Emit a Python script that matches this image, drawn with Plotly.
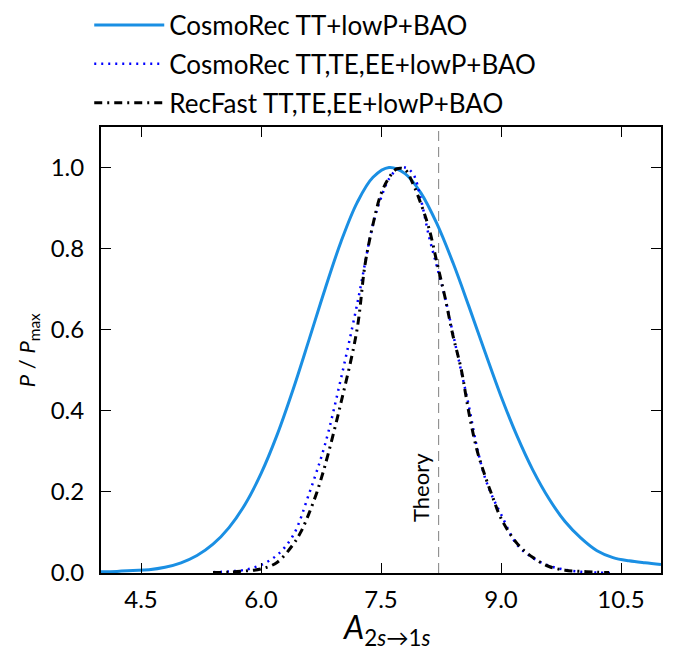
import plotly.graph_objects as go

# ---- data ----
x_tt = [4.0, 4.2, 4.4, 4.6, 4.8, 5.0, 5.2, 5.4, 5.6, 5.8, 6.0, 6.2, 6.4, 6.6, 6.8,
        7.0, 7.2, 7.4, 7.6, 7.8, 8.0, 8.2, 8.4, 8.6, 8.8, 9.0, 9.2, 9.4, 9.6, 9.8,
        10.0, 10.2, 10.4, 10.6, 10.8, 11.0]
p_tt = [0.003, 0.004, 0.006, 0.008, 0.014, 0.025, 0.043, 0.071, 0.112, 0.169, 0.245,
        0.340, 0.452, 0.575, 0.700, 0.817, 0.913, 0.976, 1.000, 0.985, 0.937, 0.861,
        0.765, 0.657, 0.545, 0.436, 0.338, 0.253, 0.183, 0.127, 0.086, 0.055, 0.038,
        0.030, 0.025, 0.021]

x_ttteee = [5.4, 5.6, 5.8, 6.0, 6.2, 6.4, 6.6, 6.8, 7.0, 7.2, 7.4, 7.5, 7.6, 7.7, 7.8,
            7.9, 8.0, 8.1, 8.2, 8.3, 8.4, 8.5, 8.6, 8.7, 8.8, 8.9, 9.0, 9.2, 9.4, 9.6,
            9.8, 10.0, 10.2, 10.4]
p_ttteee = [0.002, 0.004, 0.008, 0.020, 0.044, 0.092, 0.195, 0.317, 0.480, 0.661, 0.860,
            0.925, 0.972, 0.995, 1.000, 0.985, 0.920, 0.830, 0.755, 0.680, 0.590, 0.500,
            0.410, 0.310, 0.235, 0.185, 0.145, 0.070, 0.037, 0.018, 0.008, 0.003, 0.001,
            0.000]

x_recfast = [5.4, 5.6, 5.8, 6.0, 6.2, 6.4, 6.5, 6.6, 6.7, 6.8, 7.0, 7.2, 7.3, 7.4, 7.5,
             7.6, 7.7, 7.8, 7.9, 8.0, 8.1, 8.2, 8.3, 8.4, 8.5, 8.6, 8.7, 8.8, 8.9, 9.0,
             9.2, 9.4, 9.6, 9.8, 10.0, 10.2, 10.35]
p_recfast = [0.001, 0.002, 0.005, 0.010, 0.026, 0.070, 0.102, 0.147, 0.200, 0.265, 0.420,
             0.600, 0.760, 0.860, 0.935, 0.975, 0.997, 0.995, 0.960, 0.910, 0.850, 0.765,
             0.680, 0.585, 0.505, 0.394, 0.303, 0.240, 0.185, 0.135, 0.073, 0.038, 0.016,
             0.007, 0.004, 0.002, 0.001]

theory_value = 8.2206
x_ticks = [4.5, 6.0, 7.5, 9.0, 10.5]
x_tick_labels = ["4.5", "6.0", "7.5", "9.0", "10.5"]
y_ticks = [0.0, 0.2, 0.4, 0.6, 0.8, 1.0]
y_tick_labels = ["0.0", "0.2", "0.4", "0.6", "0.8", "1.0"]

FONT = "Lato"

fig = go.Figure()
fig.add_trace(go.Scatter(x=x_tt, y=p_tt, mode="lines", name="CosmoRec TT+lowP+BAO",
                         legendgroup="a", line=dict(color="#1a8fe3", width=3, shape="spline")))
fig.add_trace(go.Scatter(x=x_ttteee, y=p_ttteee, mode="lines",
                         name="CosmoRec TT,TE,EE+lowP+BAO", legendgroup="b",
                         line=dict(color="#0000ff", width=2.5, dash="2px,5px", shape="spline")))
fig.add_trace(go.Scatter(x=x_recfast, y=p_recfast, mode="lines",
                         name="RecFast TT,TE,EE+lowP+BAO", legendgroup="c",
                         line=dict(color="#000000", width=3, dash="8px,5px,2px,5px",
                                   shape="spline")))

fig.add_shape(type="line", xref="x", yref="paper", x0=theory_value, x1=theory_value,
              y0=0, y1=1, line=dict(color="#808080", width=1, dash="10px,6px"), layer="below")
fig.add_annotation(x=theory_value, y=0.21, xref="x", yref="y", text="Theory",
                   textangle=-90, showarrow=False, xanchor="right", yanchor="middle",
                   xshift=-2, font=dict(family=FONT, size=22, color="#000000"))
# axis titles
fig.add_annotation(x=-0.13, y=0.5, xref="paper", yref="paper",
                   text="<i>P</i> / <i>P</i><sub>max</sub>", textangle=-90, showarrow=False,
                   xanchor="center", yanchor="middle",
                   font=dict(family=FONT, size=22, color="black"))
fig.add_annotation(x=0.51, y=-0.125, xref="paper", yref="paper",
                   text="<i>A</i><sub>2<i>s</i>→1<i>s</i></sub>", showarrow=False,
                   xanchor="center", yanchor="middle",
                   font=dict(family=FONT, size=32, color="black"))

axis_common = dict(showline=True, linecolor="black", linewidth=2, mirror="ticks",
                   ticks="inside", ticklen=10, tickwidth=1, tickcolor="black",
                   showgrid=False, zeroline=False,
                   tickfont=dict(family=FONT, size=24, color="black"))

fig.update_xaxes(range=[4.0, 11.0], tickvals=x_ticks, ticktext=x_tick_labels,
                 ticklabelstandoff=4, **axis_common)
fig.update_yaxes(range=[0.0, 1.1], tickvals=y_ticks, ticktext=y_tick_labels,
                 ticklabelstandoff=10, **axis_common)

fig.update_layout(
    width=678, height=651, autosize=False,
    margin=dict(l=93, r=25, t=119, b=86, autoexpand=False),
    plot_bgcolor="white", paper_bgcolor="white",
    font=dict(family=FONT, color="black"),
    legend=dict(xref="paper", yref="paper", x=-0.021, y=1.281,
                xanchor="left", yanchor="top",
                font=dict(family=FONT, size=26, color="black"),
                itemwidth=70, tracegroupgap=2, bgcolor="rgba(0,0,0,0)"),
    showlegend=True,
)

fig.write_html("out.html")
